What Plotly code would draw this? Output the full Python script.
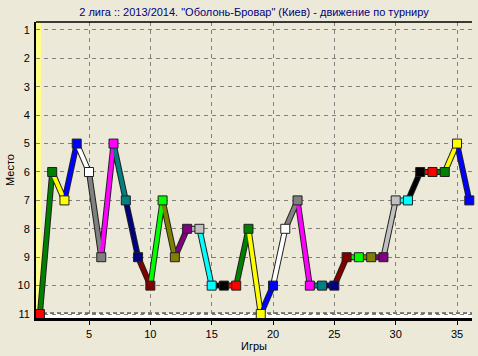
import plotly.graph_objects as go

# ---- data ----
games = [1, 2, 3, 4, 5, 6, 7, 8, 9, 10, 11, 12, 13, 14, 15, 16, 17, 18,
         19, 20, 21, 22, 23, 24, 25, 26, 27, 28, 29, 30, 31, 32, 33, 34, 35, 36]
places = [11, 6, 7, 5, 6, 9, 5, 7, 9, 10, 7, 9, 8, 8, 10, 10, 10, 8,
          11, 10, 8, 7, 10, 10, 10, 9, 9, 9, 9, 7, 7, 6, 6, 6, 5, 7]
y_ticks = [1, 2, 3, 4, 5, 6, 7, 8, 9, 10, 11]
x_ticks = [5, 10, 15, 20, 25, 30, 35]

title = '2 лига :: 2013/2014. "Оболонь-Бровар" (Киев) - движение по турниру'
x_title = "Игры"
y_title = "Место"

# ---- style ----
palette = ["#FF0000", "#008000", "#FFFF00", "#0000FF", "#FFFFFF", "#808080",
           "#FF00FF", "#008080", "#000080", "#800000", "#00FF00", "#808000",
           "#800080", "#C0C0C0", "#00FFFF", "#000000"]
colors = [palette[i % len(palette)] for i in range(len(games))]
BG = "#ECE9D8"
FONT = "Liberation Sans"

fig = go.Figure()

# dark outline for the ribbon
fig.add_trace(go.Scatter(x=games, y=places, mode="lines",
                         line=dict(color="#202020", width=6),
                         hoverinfo="skip", showlegend=False, cliponaxis=False))
# coloured segments (each segment coloured like its end point)
for i in range(1, len(games)):
    fig.add_trace(go.Scatter(x=games[i - 1:i + 1], y=places[i - 1:i + 1],
                             mode="lines",
                             line=dict(color=colors[i], width=4),
                             hoverinfo="skip", showlegend=False,
                             cliponaxis=False))
# point markers
fig.add_trace(go.Scatter(x=games, y=places, mode="markers",
                         marker=dict(symbol="square", size=9, color=colors,
                                     line=dict(color="#202020", width=1)),
                         showlegend=False, cliponaxis=False))

L, R, T, B = 36, 6, 22, 34
W, H = 478, 356
pw = W - L - R
ph = H - T - B

shapes = [
    # yellow left wall
    dict(type="rect", xref="paper", yref="paper", x0=0, x1=5 / pw, y0=0, y1=1,
         fillcolor="#FFFF88", line=dict(width=0), layer="below"),
    # white floor
    dict(type="rect", xref="paper", yref="paper", x0=0, x1=1, y0=0, y1=5 / ph,
         fillcolor="#FFFFFF", line=dict(width=0), layer="below"),
    dict(type="line", xref="paper", yref="paper", x0=0, x1=1, y0=5 / ph, y1=5 / ph,
         line=dict(color="#000000", width=1, dash="4px,3px"), layer="below"),
    # top frame line
    dict(type="line", xref="paper", yref="paper", x0=0, x1=1, y0=1, y1=1,
         line=dict(color="#000000", width=1.5)),
]

fig.update_layout(
    width=W, height=H,
    margin=dict(l=L, r=R, t=T, b=B),
    paper_bgcolor=BG, plot_bgcolor=BG,
    font=dict(family=FONT, size=11, color="#000000"),
    title=dict(text=title, x=0.5, xref="paper", xanchor="center",
               y=1 - 12 / H, yref="container", yanchor="middle",
               font=dict(family=FONT, size=11, color="#000080")),
    shapes=shapes,
    showlegend=False,
)
fig.update_xaxes(
    range=[0.68, 36.22], tickmode="array", tickvals=x_ticks,
    ticks="outside", ticklen=4, tickcolor="#000000",
    showline=True, linecolor="#000000", linewidth=2.5,
    showgrid=True, gridcolor="#808080", griddash="4px,4px", gridwidth=1,
    zeroline=False,
    title=dict(text=x_title, standoff=2, font=dict(family=FONT, size=11)),
    tickfont=dict(family=FONT, size=11),
)
fig.update_yaxes(
    range=[11.14, 0.72], tickmode="array", tickvals=y_ticks,
    ticks="", ticklabelstandoff=2,
    showline=True, linecolor="#000000", linewidth=2,
    showgrid=True, gridcolor="#808080", griddash="4px,4px", gridwidth=1,
    zeroline=False,
    title=dict(text=y_title, standoff=1, font=dict(family=FONT, size=11)),
    tickfont=dict(family=FONT, size=11),
)

fig.write_html("out.html")
